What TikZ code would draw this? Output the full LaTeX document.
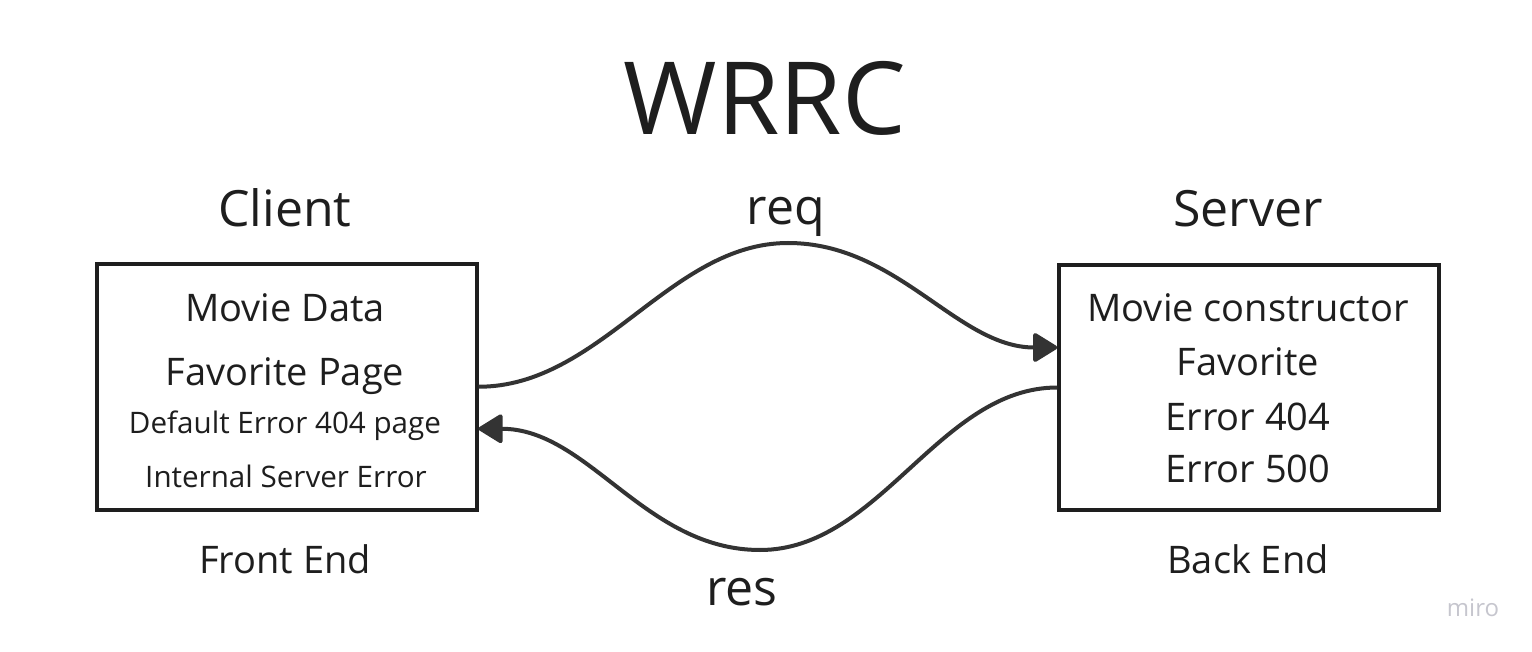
\documentclass[tikz,border=0pt]{standalone}
\usepackage{fontspec}
\setmainfont{Open Sans}
\usetikzlibrary{arrows.meta}
\definecolor{ink}{HTML}{1E1E1E}
\definecolor{wire}{HTML}{333333}
\definecolor{mark}{HTML}{C6C6CE}
\newcommand{\fs}[1]{\fontsize{#1}{#1}\selectfont}
\begin{document}
\begin{tikzpicture}[x=1pt,y=-1pt,
  lbl/.style={anchor=base,inner sep=0pt,text=ink},
  boxnode/.style={draw=ink,line width=4pt,minimum width=379.5pt,minimum height=245.5pt,inner sep=0pt},
  conn/.style={draw=wire,line width=4pt,-{Triangle[length=26pt,width=31pt,round]}}
]
\useasboundingbox[fill=white] (0,0) rectangle (1532,652);
% title
\node[lbl,font=\fs{101}] (title) at (765,135) {WRRC};
% headers
\node[lbl,font=\fs{50}] (clienthd) at (285,227) {Client};
\node[lbl,font=\fs{50}] (serverhd) at (1248,227) {Server};
\node[lbl,font=\fs{50}] (req) at (786,225) {req};
\node[lbl,font=\fs{50}] (res) at (742,605) {res};
% boxes
\node[boxnode] (client) at (286.75,386.75) {};
\node[boxnode] (server) at (1249,387.5) {};
% client contents
\node[lbl,font=\fs{38}] (c1) at (285,322) {Movie Data};
\node[lbl,font=\fs{38}] (c2) at (285,385) {Favorite Page};
\node[lbl,font=\fs{29.6}] (c3) at (285,433) {Default Error 404 page};
\node[lbl,font=\fs{29.6}] (c4) at (286,487) {Internal Server Error};
% server contents
\node[lbl,font=\fs{38}] (s1) at (1248,322) {Movie constructor};
\node[lbl,font=\fs{38}] (s2) at (1248,375) {Favorite};
\node[lbl,font=\fs{38}] (s3) at (1248,430) {Error 404};
\node[lbl,font=\fs{38}] (s4) at (1248,482) {Error 500};
% footers
\node[lbl,font=\fs{38}] (fe) at (285,573) {Front End};
\node[lbl,font=\fs{38}] (be) at (1248,573) {Back End};
% watermark
\node[lbl,font=\fs{24},text=mark] (miro) at (1473,616) {miro};
% connectors
\coordinate (reqpeak) at (788,243);
\coordinate (resbot) at (760,550);
\draw[conn] (client.east) .. controls +(122,0) and +(-118,0) .. (reqpeak)
  .. controls +(110,0) and +(-100,0) .. ([yshift=40pt]server.west);
\draw[conn] (server.west) .. controls +(-118,0) and +(120,0) .. (resbot)
  .. controls +(-115,0) and +(110,0) .. ([yshift=-42pt]client.east);
\end{tikzpicture}
\end{document}
